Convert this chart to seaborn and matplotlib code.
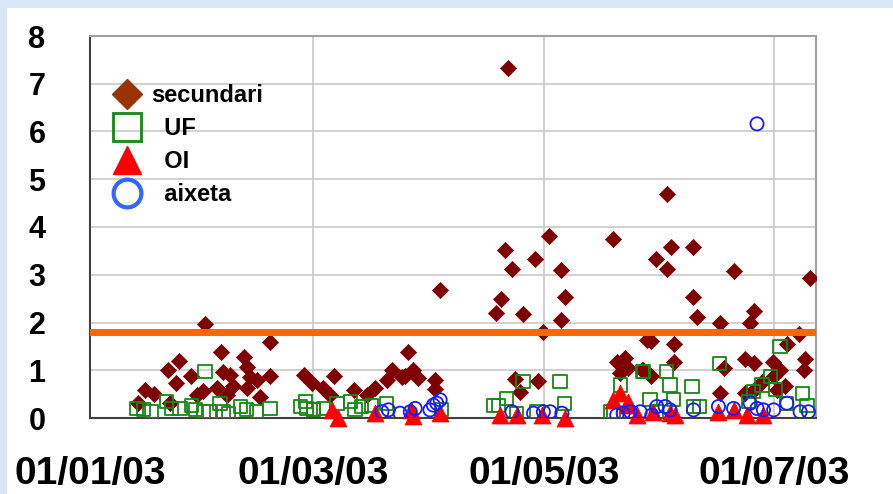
"""Scatter of concentrations by source (secundari / UF / OI / aixeta), Jan-Jul 2003."""

import matplotlib

matplotlib.use("Agg")

import matplotlib.pyplot as plt
import numpy as np
import pandas as pd
import seaborn as sns
from matplotlib.dates import DateFormatter
from matplotlib.lines import Line2D
from matplotlib.patches import Rectangle

# day offsets from 01/01/2003 and values
sec_days = [30.4, 47.6, 34.7, 40.8, 23.6, 20.7, 41.4, 26.6, 35.1, 37.0, 47.6, 22.7,
            42.3, 44.1, 14.6, 16.8, 30.0, 33.5, 37.9, 41.4, 45.0, 36.2, 28.2, 12.8,
            21.2, 56.6, 64.6, 58.6, 61.7, 69.7, 63.5, 75.4, 79.8, 78.5, 83.3, 73.2,
            84.2, 110.5, 92.6, 109.8, 111.7, 117.7, 121.5, 124.5, 108.6, 107.4, 114.6,
            125.7, 124.5, 119.7, 82.5, 85.5, 86.8, 91.3, 91.3, 112.4, 113.6, 118.6,
            139.3, 141.5, 142.4, 140.2, 138.4, 147.3, 146.3, 152.6, 153.7, 159.4,
            149.6, 152.6, 170.4, 190.5, 159.4, 160.5, 166.7, 175.7, 174.6, 187.4,
            184.3, 148.4, 154.5, 154.5, 189.2, 188.7, 173.3, 175.7, 180.6, 182.5,
            180.8, 167.6, 148.4, 145.9, 183.9, 177.7, 175.5, 173.3, 166.7, 181.7]
sec_vals = [1.96, 1.60, 1.39, 1.28, 1.19, 1.00, 1.07, 0.89, 0.97, 0.90, 0.88, 0.74,
            0.86, 0.80, 0.59, 0.50, 0.57, 0.62, 0.66, 0.62, 0.45, 0.48, 0.48, 0.31,
            0.31, 0.90, 0.89, 0.73, 0.62, 0.59, 0.48, 0.62, 1.00, 0.80, 0.87, 0.48,
            1.39, 7.32, 2.68, 3.52, 3.13, 3.32, 3.82, 3.09, 2.49, 2.19, 2.18,
            2.54, 2.05, 1.81, 0.86, 1.00, 0.83, 0.80, 0.60, 0.81, 0.55, 0.77,
            1.18, 1.25, 1.04, 0.94, 3.74, 1.63, 1.00, 4.69, 3.59, 3.59,
            3.32, 3.11, 3.08, 2.93, 2.53, 2.12, 2.00, 2.24, 2.00, 1.75,
            1.56, 1.61, 1.56, 1.18, 1.23, 1.00, 1.23, 1.15, 1.18, 1.00,
            0.87, 1.04, 0.87, 1.00, 0.66, 0.76, 0.59, 0.52, 0.53, 0.59]

uf_days = [30.4, 12.3, 14.1, 16.3, 20.3, 21.6, 23.8, 26.9, 27.8, 30.0, 31.7, 34.4,
           35.3, 36.6, 39.7, 41.4, 44.1, 47.6, 55.6, 57.3, 59.0, 56.9, 59.1, 61.7,
           65.3, 68.8, 70.1, 71.9, 74.5, 78.5, 93.0, 106.7, 108.0, 110.2, 112.9,
           114.5, 118.2, 124.3, 125.5, 140.2, 146.2, 138.4, 146.4, 152.4, 153.4,
           159.2, 148.1, 154.3, 159.6, 166.5, 175.5, 179.9, 181.2, 182.5, 188.4,
           189.6, 184.3, 177.7, 137.6, 149.9, 161.1, 174.2]
uf_vals = [0.97, 0.20, 0.17, 0.13, 0.34, 0.20, 0.20, 0.27, 0.17, 0.13, 0.13, 0.31,
           0.13, 0.10, 0.24, 0.17, 0.13, 0.20, 0.24, 0.20, 0.17, 0.34, 0.17, 0.20,
           0.31, 0.34, 0.17, 0.24, 0.27, 0.31, 0.17, 0.27, 0.27, 0.41, 0.10,
           0.77, 0.13, 0.77, 0.31, 0.69, 0.97, 0.10, 0.97, 0.97, 0.69,
           0.66, 0.38, 0.38, 0.24, 1.14, 0.55, 0.87, 0.59, 1.49, 0.52,
           0.27, 0.31, 0.69, 0.13, 0.13, 0.24, 0.34]

oi_days = [63.9, 65.7, 75.4, 85.0, 92.6, 85.4, 108.5, 112.9, 119.5, 125.7, 140.2,
           138.4, 142.4, 144.6, 149.0, 153.4, 154.8, 166.2, 170.2, 173.7, 178.1, 142.1]
oi_vals = [0.17, 0.0, 0.10, 0.17, 0.10, 0.05, 0.06, 0.06, 0.06, 0.0, 0.52,
           0.38, 0.34, 0.06, 0.13, 0.10, 0.06, 0.13, 0.17, 0.06, 0.06, 0.27]

aix_days = [77.2, 78.9, 82.0, 84.7, 86.0, 89.9, 90.8, 92.6, 91.7, 111.6, 117.3,
            119.9, 121.7, 124.8, 139.3, 141.0, 142.9, 145.5, 148.6, 149.9, 152.1,
            153.4, 159.6, 166.2, 170.2, 174.6, 176.4, 178.1, 180.8, 184.3, 187.8,
            190.0, 176.4]
aix_vals = [0.13, 0.17, 0.10, 0.13, 0.20, 0.17, 0.27, 0.38, 0.31, 0.13, 0.10,
            0.13, 0.13, 0.10, 0.06, 0.10, 0.13, 0.13, 0.06, 0.24, 0.24,
            0.17, 0.17, 0.24, 0.20, 0.31, 0.20, 0.17, 0.17, 0.31, 0.13,
            0.13, 6.16]

limit_value = 1.8
tick_dates = ["2003-01-01", "2003-03-01", "2003-05-01", "2003-07-01"]
series_labels = ["secundari", "  UF", "  OI", "  aixeta"]

start = pd.Timestamp("2003-01-01")


def to_dates(days):
    return start + pd.to_timedelta(np.array(days), unit="D")


sns.set_style("white")
plt.rcParams["font.family"] = ["Liberation Sans", "DejaVu Sans"]

fig = plt.figure(figsize=(8.93, 4.94), dpi=100)
fig.patch.set_facecolor("#d9e6f5")
fig.add_artist(Rectangle((7 / 893, 0), 1, 1 - 8 / 494, transform=fig.transFigure,
                         facecolor="white", edgecolor="none", zorder=0))
ax = fig.add_axes([90 / 893, 1 - 418 / 494, 726 / 893, 382 / 494])

sns.scatterplot(x=to_dates(sec_days), y=sec_vals, marker="D", s=68, color="#7f0000",
                edgecolor="#7f0000", linewidth=0.5, ax=ax, zorder=3)
sns.scatterplot(x=to_dates(uf_days), y=uf_vals, marker="s", s=90, facecolor="none",
                edgecolor="#138a13", linewidth=1.3, ax=ax, zorder=4)
sns.scatterplot(x=to_dates(oi_days), y=oi_vals, marker="^", s=150, color="#ff0000",
                edgecolor="#ff0000", linewidth=0.5, ax=ax, zorder=5, clip_on=False)
sns.scatterplot(x=to_dates(aix_days), y=aix_vals, marker="o", s=90, facecolor="none",
                edgecolor="#1a1aff", linewidth=1.3, ax=ax, zorder=6)
ax.axhline(limit_value, color="#ff6600", linewidth=5, zorder=7)

ax.set_xlim(start, start + pd.Timedelta(days=192))
ax.set_ylim(0, 8)
ax.set_yticks(range(0, 9))
ax.set_xticks(pd.to_datetime(tick_dates))
ax.xaxis.set_major_formatter(DateFormatter("%d/%m/%y"))
ax.grid(True, color="#c8c8c8", linewidth=1.2)
ax.set_axisbelow(True)
ax.set_xlabel("")
ax.set_ylabel("")

for side in ("left", "bottom"):
    ax.spines[side].set_color("#404040")
    ax.spines[side].set_linewidth(1.5)
for side in ("top", "right"):
    ax.spines[side].set_color("#a0a0a0")
    ax.spines[side].set_linewidth(1.5)

ax.tick_params(axis="y", direction="out", length=8, width=1.2, color="#202020",
               labelsize=22, pad=24, labelcolor="black")
ax.tick_params(axis="x", direction="out", length=12, width=1.2, color="#202020",
               labelsize=28, pad=15, labelcolor="black")
for lbl in ax.get_xticklabels() + ax.get_yticklabels():
    lbl.set_fontweight("bold")

handles = [
    Line2D([], [], linestyle="none", marker="D", markersize=15, color="#993300"),
    Line2D([], [], linestyle="none", marker="s", markersize=20, markerfacecolor="none",
           markeredgecolor="#138a13", markeredgewidth=2),
    Line2D([], [], linestyle="none", marker="^", markersize=20, color="#ff0000"),
    Line2D([], [], linestyle="none", marker="o", markersize=20, markerfacecolor="none",
           markeredgecolor="#3366ff", markeredgewidth=3),
]
ax.legend(handles, series_labels, loc="upper left",
          bbox_to_anchor=(0.012, 0.905), frameon=False, handletextpad=0.3,
          handlelength=1.4, labelspacing=0.42, prop={"size": 17, "weight": "bold"},
          borderpad=0, labelcolor="black")

fig.savefig("out.png", dpi=100, facecolor=fig.get_facecolor())
